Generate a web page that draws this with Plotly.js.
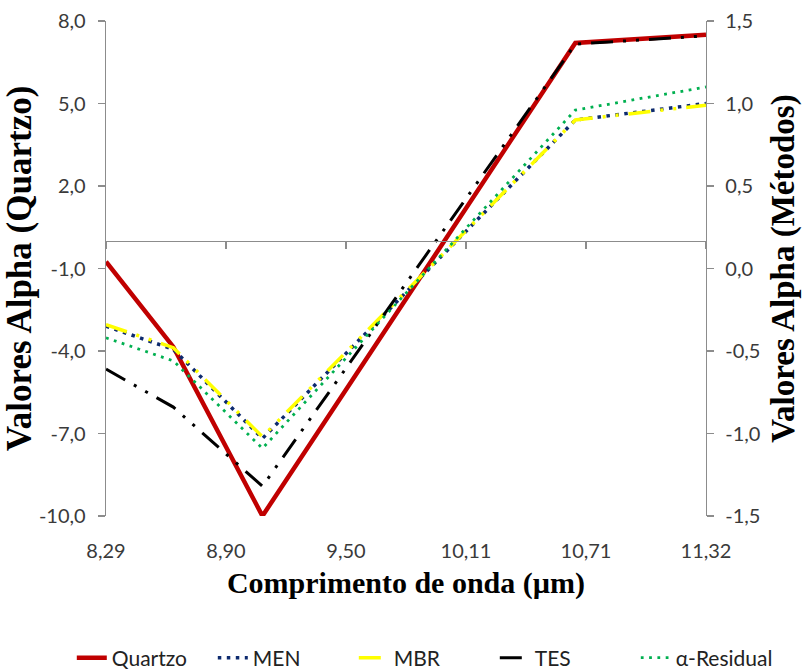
<!DOCTYPE html>
<html>
<head>
<meta charset="utf-8">
<script src="https://cdn.plot.ly/plotly-3.0.1.min.js"></script>
<style>html,body{margin:0;padding:0;background:#fff;}#chart{width:808px;height:669px;}</style>
</head>
<body>
<div id="chart"></div>
<script>
// Wavelengths (µm)
var wavelengths = [8.29, 8.63, 9.08, 10.66, 11.32];
// Left axis series
var quartzo = [-0.75, -3.85, -10.0, 7.2, 7.5];
// Right axis series (methods)
var men = [-0.35, -0.49, -1.03, 0.90, 1.00];
var mbr = [-0.34, -0.48, -1.02, 0.90, 0.99];
var tes = [-0.61, -0.84, -1.32, 1.36, 1.41];
var residual = [-0.42, -0.56, -1.09, 0.96, 1.10];
// Axis ticks and labels
var xTicks = [8.29, 8.896, 9.502, 10.108, 10.714, 11.32];
var xTickLabels = ['8,29', '8,90', '9,50', '10,11', '10,71', '11,32'];
var leftTicks = [-10, -7, -4, -1, 2, 5, 8];
var leftTickLabels = ['-10,0', '-7,0', '-4,0', '-1,0', '2,0', '5,0', '8,0'];
var rightTicks = [-1.5, -1.0, -0.5, 0.0, 0.5, 1.0, 1.5];
var rightTickLabels = ['-1,5', '-1,0', '-0,5', '0,0', '0,5', '1,0', '1,5'];

var tickFont = {family: 'Lato, "Open Sans", sans-serif', size: 20, color: '#3a3a3a'};
var leftTitleFont = {family: '"Liberation Serif", "Times New Roman", serif', size: 35, color: '#000', weight: 700};
var rightTitleFont = {family: '"Liberation Serif", "Times New Roman", serif', size: 33, color: '#000', weight: 700};
var xTitleFont = {family: '"Liberation Serif", "Times New Roman", serif', size: 30, color: '#000', weight: 700};

var traces = [
  {x: wavelengths, y: quartzo, name: 'Quartzo', type: 'scatter', mode: 'lines',
   xaxis: 'x', yaxis: 'y', line: {color: '#C00000', width: 4.5}},
  {x: wavelengths, y: men, name: 'MEN', type: 'scatter', mode: 'lines',
   xaxis: 'x2', yaxis: 'y2', line: {color: '#0D2A6E', width: 3.5, dash: '3.5px,5.5px'}},
  {x: wavelengths, y: mbr, name: 'MBR', type: 'scatter', mode: 'lines',
   xaxis: 'x2', yaxis: 'y2', line: {color: '#FFFF00', width: 3.5, dash: '22px,10px,3px,10px,3px,10px'}},
  {x: wavelengths, y: tes, name: 'TES', type: 'scatter', mode: 'lines',
   xaxis: 'x2', yaxis: 'y2', line: {color: '#000000', width: 3, dash: '22px,10px,3px,10px,3px,10px'}},
  {x: wavelengths, y: residual, name: 'α-Residual', type: 'scatter', mode: 'lines',
   xaxis: 'x2', yaxis: 'y2', line: {color: '#00B050', width: 2.8, dash: '2.8px,5.5px'}}
];

var leftRange = [leftTicks[0], leftTicks[leftTicks.length - 1]];
var rightRange = [rightTicks[0], rightTicks[rightTicks.length - 1]];
var xRange = [xTicks[0], xTicks[xTicks.length - 1]];
var zeroPos = (0 - leftRange[0]) / (leftRange[1] - leftRange[0]);

var axisLine = {showline: true, linecolor: '#8c8c8c', linewidth: 1.3, ticks: 'outside', ticklen: 7,
                tickcolor: '#8c8c8c', tickwidth: 1.3, showgrid: false, zeroline: false};

var layout = {
  width: 808, height: 669,
  margin: {l: 106, r: 102, t: 21, b: 153, autoexpand: false},
  paper_bgcolor: '#fff', plot_bgcolor: '#fff',
  showlegend: true,
  legend: {orientation: 'h', x: -0.057, xanchor: 'left', y: -0.287, yanchor: 'middle',
           font: {family: 'Lato, "Open Sans", sans-serif', size: 21, color: '#222'},
           entrywidth: 96, entrywidthmode: 'pixels', traceorder: 'normal'},
  xaxis: {range: xRange, tickmode: 'array', tickvals: xTicks, ticktext: xTickLabels,
          showline: false, showgrid: false, zeroline: false,
          ticks: 'outside', ticklen: 17, tickcolor: 'rgba(0,0,0,0)', tickfont: tickFont,
          automargin: true,
          title: {text: 'Comprimento de onda (µm)', font: xTitleFont, standoff: 10}},
  xaxis2: Object.assign({range: xRange, overlaying: 'x', anchor: 'free', position: zeroPos,
           side: 'bottom', tickmode: 'array', tickvals: xTicks, showticklabels: false}, axisLine),
  yaxis: Object.assign({range: leftRange, tickmode: 'array', tickvals: leftTicks, ticktext: leftTickLabels,
          tickfont: tickFont, ticklabelstandoff: 8, automargin: true,
          title: {text: 'Valores Alpha (Quartzo)', font: leftTitleFont, standoff: 0}}, axisLine),
  yaxis2: Object.assign({range: rightRange, overlaying: 'y', side: 'right', anchor: 'x2',
           tickmode: 'array', tickvals: rightTicks, ticktext: rightTickLabels,
           tickfont: tickFont, ticklabelstandoff: 7, automargin: true,
           title: {text: 'Valores Alpha (Métodos)', font: rightTitleFont, standoff: 11}}, axisLine)
};

Plotly.newPlot('chart', traces, layout, {staticPlot: true, displayModeBar: false});
</script>
</body>
</html>
